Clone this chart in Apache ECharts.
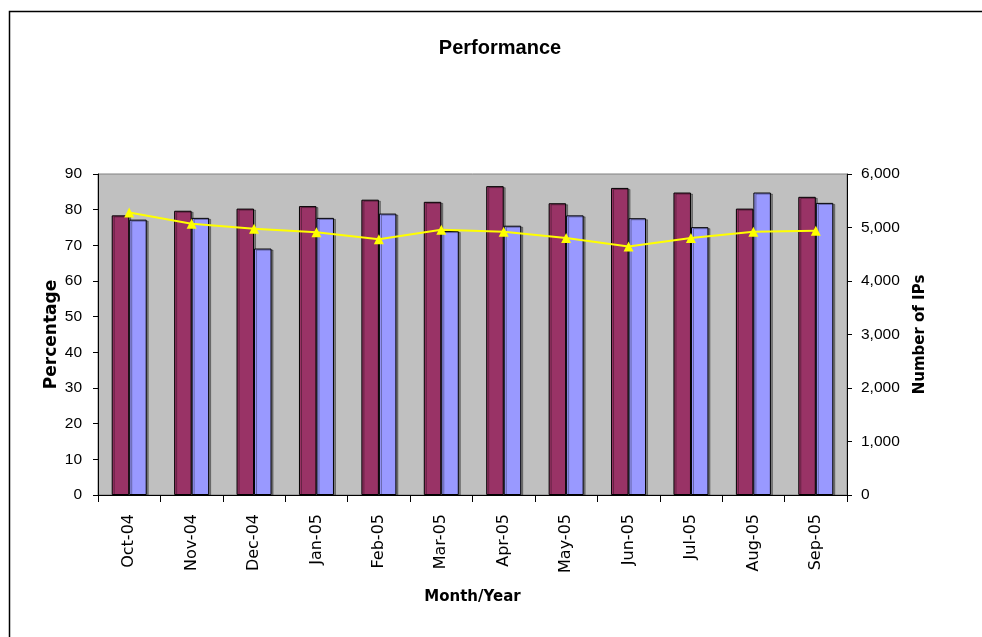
<!DOCTYPE html>
<html style="height: 100%">
<head>
    <meta charset="utf-8">
    <title>Performance</title>
    <script src="https://cdn.jsdelivr.net/npm/echarts@6/dist/echarts.min.js"></script>
</head>
<body style="height: 100%; margin: 0; background: #fff">
    <div id="chart" style="width: 982px; height: 637px"></div>
    <script>
        // data
        const months = ['Oct-04', 'Nov-04', 'Dec-04', 'Jan-05', 'Feb-05', 'Mar-05',
            'Apr-05', 'May-05', 'Jun-05', 'Jul-05', 'Aug-05', 'Sep-05'];
        const pctA = [78.4, 79.7, 80.3, 81.0, 82.8, 82.2, 86.6, 81.8, 86.1, 84.8, 80.3, 83.6];
        const pctB = [77.2, 77.7, 69.1, 77.7, 78.9, 74.0, 75.5, 78.4, 77.6, 75.1, 84.8, 81.9];
        const ipCount = [5280, 5070, 4975, 4910, 4780, 4960, 4920, 4805, 4645, 4805, 4920, 4940];

        const leftTicks = { min: 0, max: 90, interval: 10 };
        const rightTicks = { min: 0, max: 6000, interval: 1000 };

        const font = 'DejaVu Sans';
        const tickFont = 'Liberation Sans';
        const nameStyle = { fontFamily: font, fontWeight: 'bold', fontSize: 15, color: '#000' };

        const chart = echarts.init(document.getElementById('chart'), null, { renderer: 'canvas' });

        const option = {
            animation: false,
            title: {
                text: 'Performance',
                left: 495, top: 33, textAlign: 'center',
                textStyle: { fontFamily: 'Liberation Sans', fontWeight: 'bold', fontSize: 20, color: '#000' }
            },
            grid: {
                left: 98, right: 135, top: 174, bottom: 142,
                show: true, backgroundColor: '#C0C0C0', borderColor: '#808080', borderWidth: 1
            },
            xAxis: {
                type: 'category',
                data: months,
                name: 'Month/Year',
                nameLocation: 'middle',
                nameGap: 95,
                nameMoveOverlap: false,
                nameTextStyle: nameStyle,
                axisLine: { lineStyle: { color: '#000', width: 1 } },
                axisTick: { show: true, length: 7, lineStyle: { color: '#000' } },
                axisLabel: { rotate: 90, margin: 19, fontFamily: font, fontSize: 16, color: '#000' },
                splitLine: { show: false }
            },
            yAxis: [{
                type: 'value',
                ...leftTicks,
                name: 'Percentage',
                nameLocation: 'middle',
                nameRotate: 90,
                nameGap: 38,
                nameMoveOverlap: false,
                nameTextStyle: { ...nameStyle, fontSize: 17 },
                axisLine: { show: true, lineStyle: { color: '#000' } },
                axisTick: { show: true, length: 5, lineStyle: { color: '#000' } },
                axisLabel: { margin: 16, fontFamily: tickFont, fontSize: 15.5, color: '#000' },
                splitLine: { show: false }
            }, {
                type: 'value',
                ...rightTicks,
                position: 'right',
                name: 'Number of IPs',
                nameLocation: 'middle',
                nameRotate: 90,
                nameGap: 66,
                nameMoveOverlap: false,
                nameTextStyle: nameStyle,
                axisLine: { show: true, lineStyle: { color: '#000' } },
                axisTick: { show: true, length: 5, lineStyle: { color: '#000' } },
                axisLabel: {
                    margin: 14, fontFamily: tickFont, fontSize: 15.5, color: '#000',
                    formatter: v => v.toLocaleString('en-US')
                },
                splitLine: { show: false }
            }],
            series: [{
                type: 'bar',
                data: pctA,
                barWidth: 17.5,
                barGap: '0%',
                itemStyle: {
                    color: '#993366', borderColor: '#000', borderWidth: 1,
                    shadowColor: 'rgba(0,0,0,0.35)', shadowOffsetX: 2, shadowOffsetY: 1
                }
            }, {
                type: 'bar',
                data: pctB,
                barWidth: 17.5,
                barGap: '0%',
                itemStyle: {
                    color: '#9999FF', borderColor: '#000', borderWidth: 1,
                    shadowColor: 'rgba(0,0,0,0.35)', shadowOffsetX: 2, shadowOffsetY: 1
                }
            }, {
                type: 'line',
                yAxisIndex: 1,
                data: ipCount,
                symbol: 'triangle',
                symbolSize: 10,
                lineStyle: { color: '#FFFF00', width: 2 },
                itemStyle: { color: '#FFFF00', borderWidth: 0 },
                z: 5
            }],
            graphic: [{
                type: 'polyline',
                shape: { points: [[9.5, 637], [9.5, 11.5], [982, 11.5]] },
                style: { stroke: '#000', lineWidth: 1.5, fill: null },
                silent: true
            }]
        };

        chart.setOption(option);
    </script>
</body>
</html>
